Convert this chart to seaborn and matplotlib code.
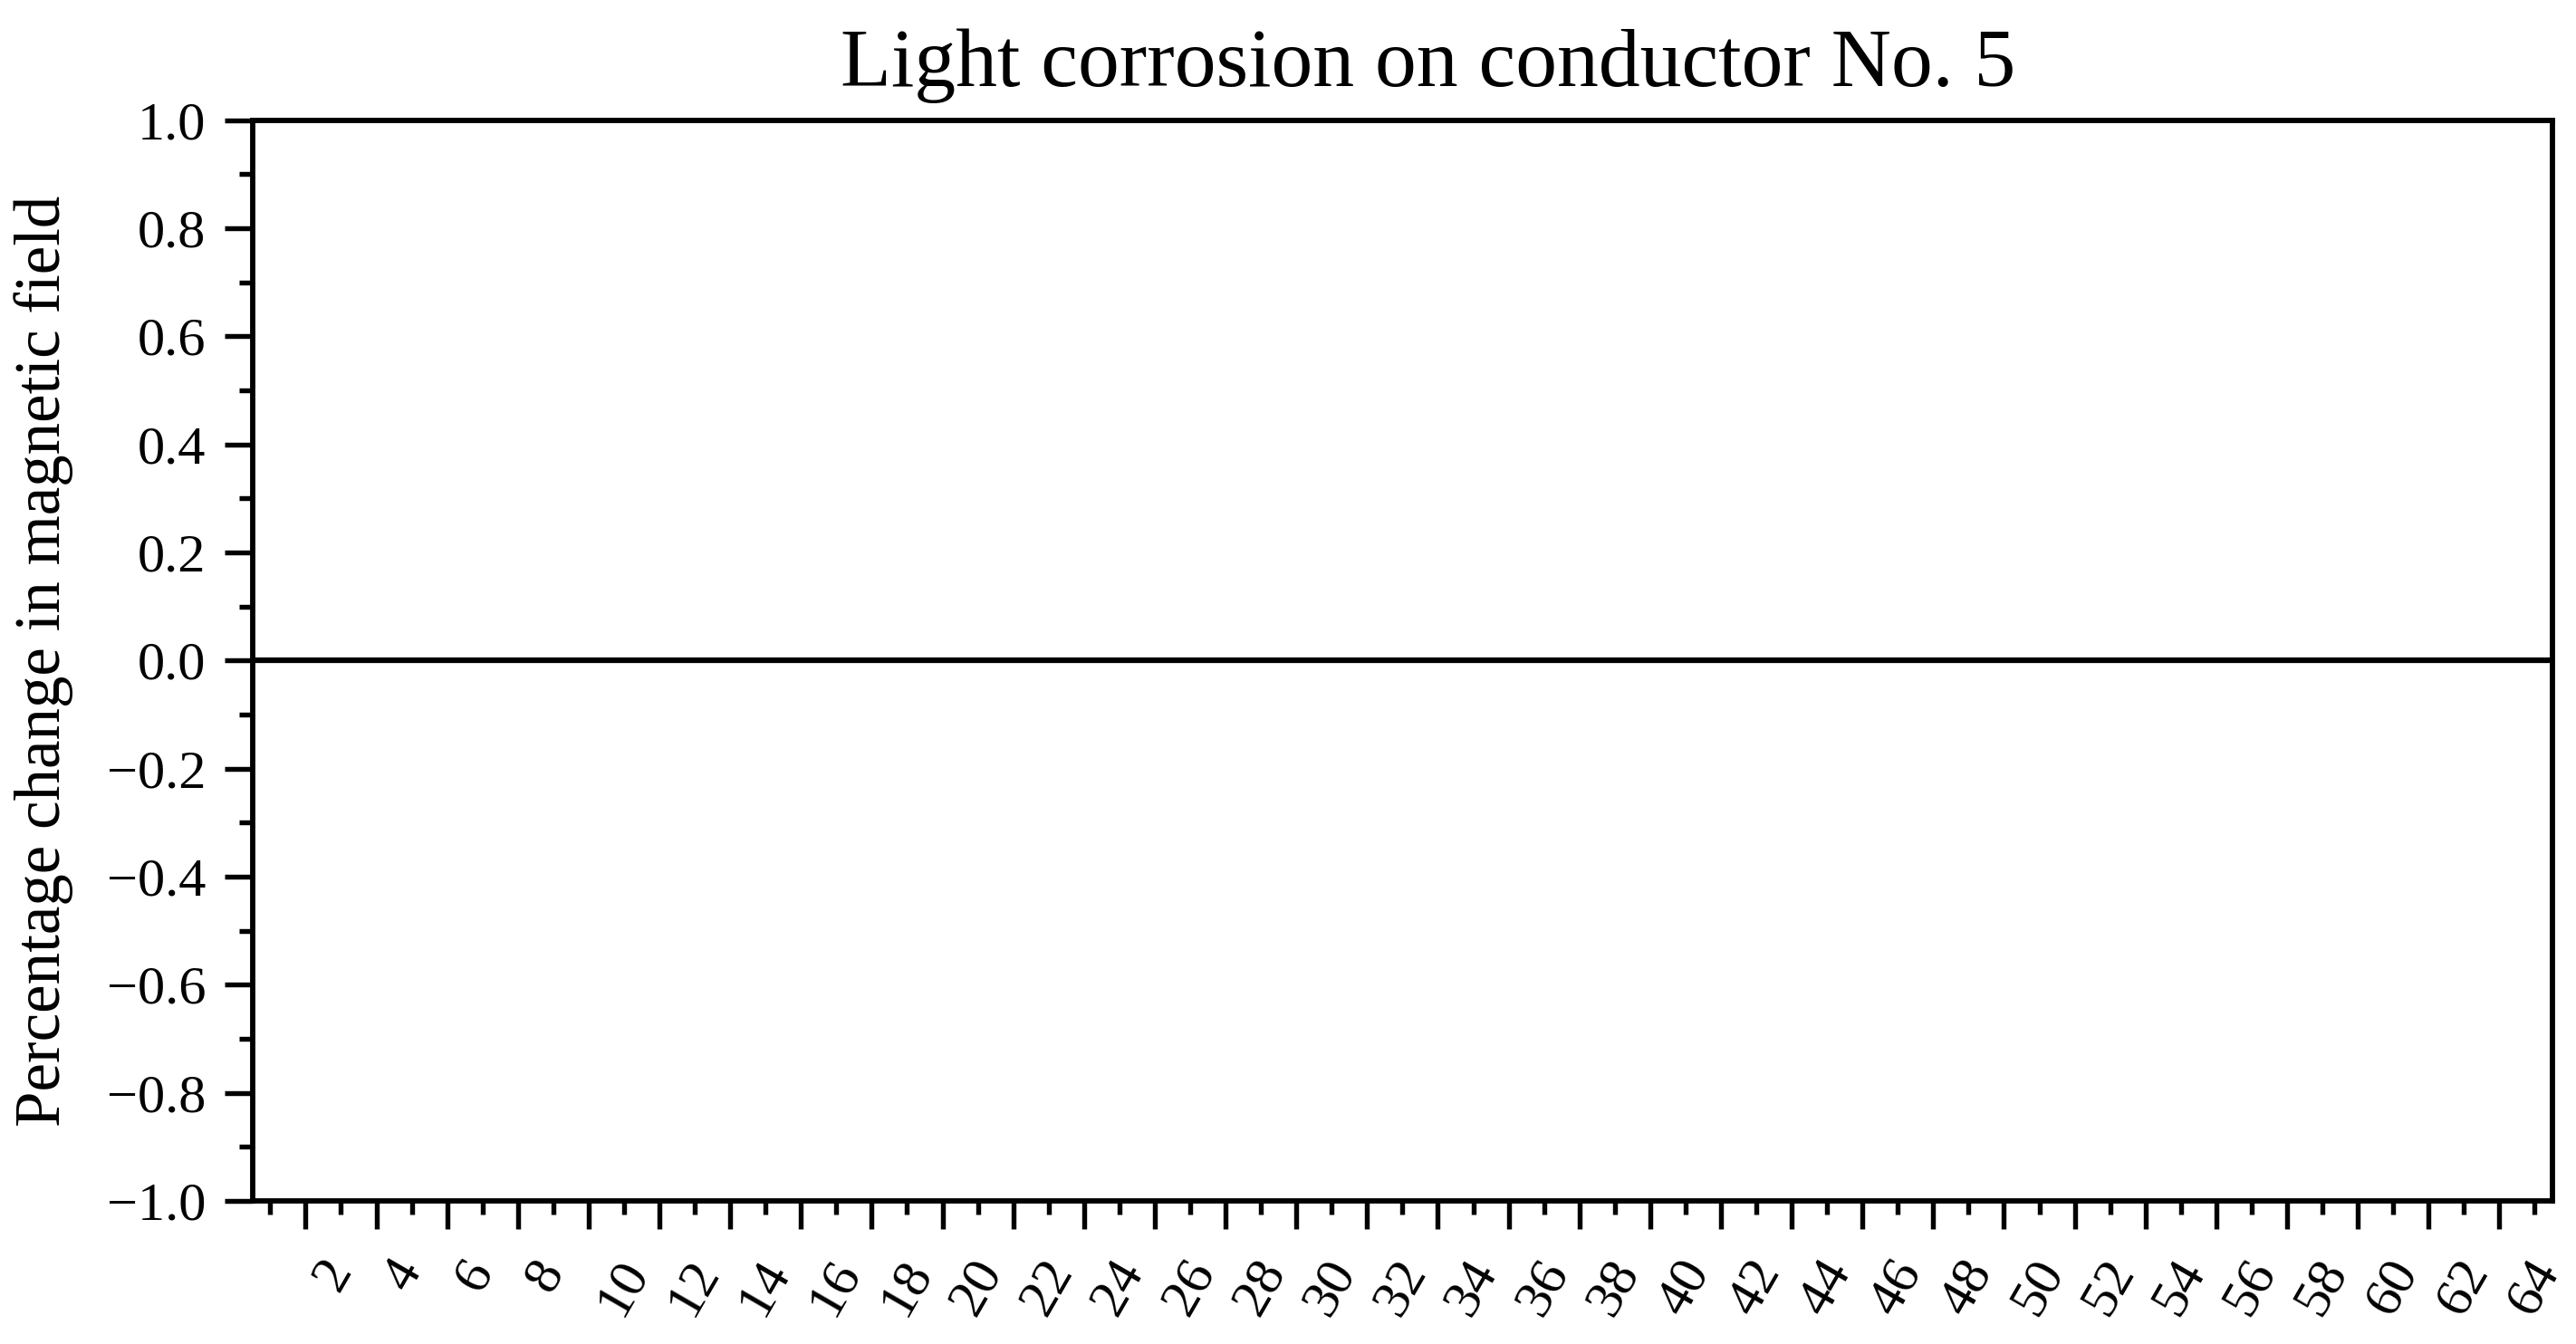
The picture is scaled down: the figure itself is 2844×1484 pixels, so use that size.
import matplotlib
matplotlib.use("Agg")
import matplotlib.pyplot as plt
import seaborn as sns
from matplotlib.ticker import MultipleLocator, FuncFormatter

# ── data ────────────────────────────────────────────────
title = "Light corrosion on conductor No. 5"
y_label = "Percentage change in magnetic field"
major_x = [2, 4, 6, 8, 10, 12, 14, 16, 18, 20, 22, 24, 26, 28, 30, 32,
           34, 36, 38, 40, 42, 44, 46, 48, 50, 52, 54, 56, 58, 60, 62, 64]
minor_x = [1, 3, 5, 7, 9, 11, 13, 15, 17, 19, 21, 23, 25, 27, 29, 31, 33,
           35, 37, 39, 41, 43, 45, 47, 49, 51, 53, 55, 57, 59, 61, 63, 65]
x_labels = [str(v) for v in major_x]
y_ticks = [-1.0, -0.8, -0.6, -0.4, -0.2, 0.0, 0.2, 0.4, 0.6, 0.8, 1.0]
baseline = 0.0

# ── style ───────────────────────────────────────────────
sns.set_theme(style="ticks")
plt.rcParams['font.family'] = ['Liberation Serif', 'DejaVu Serif']
plt.rcParams['axes.edgecolor'] = 'black'

fig = plt.figure(figsize=(2845 / 300, 1484 / 300), dpi=300)
ax = fig.add_axes([0.098, 0.1065, 0.8925, 0.804])

ax.axhline(baseline, color='black', linewidth=1.5)

ax.set_xlim(0.5, 65.5)
ax.set_ylim(-1.0, 1.0)
ax.set_xticks(major_x)
ax.set_xticks(minor_x, minor=True)
ax.set_xticklabels(x_labels, rotation=60, ha='left')
ax.set_yticks(y_ticks)
ax.yaxis.set_minor_locator(MultipleLocator(0.1))
ax.yaxis.set_major_formatter(FuncFormatter(lambda v, p: f"{v:.1f}".replace("-", "\u2212")))

ax.tick_params(which='major', length=7.4, width=1.3, color='black',
               labelsize=14.5, labelcolor='black', direction='out')
ax.tick_params(which='minor', length=3.5, width=1.3, color='black', direction='out')
ax.tick_params(axis='x', which='major', pad=6)
ax.tick_params(axis='y', which='major', pad=5)

for s in ax.spines.values():
    s.set_visible(True)
    s.set_color('black')
    s.set_linewidth(1.4)

ax.set_ylabel(y_label, fontsize=17, color='black')
ax.yaxis.set_label_coords(-0.078, 0.5)
ax.set_title(title, fontsize=22, color='black', pad=9, x=0.511)

fig.savefig("out.png", dpi=300, facecolor='white')
plt.close(fig)
